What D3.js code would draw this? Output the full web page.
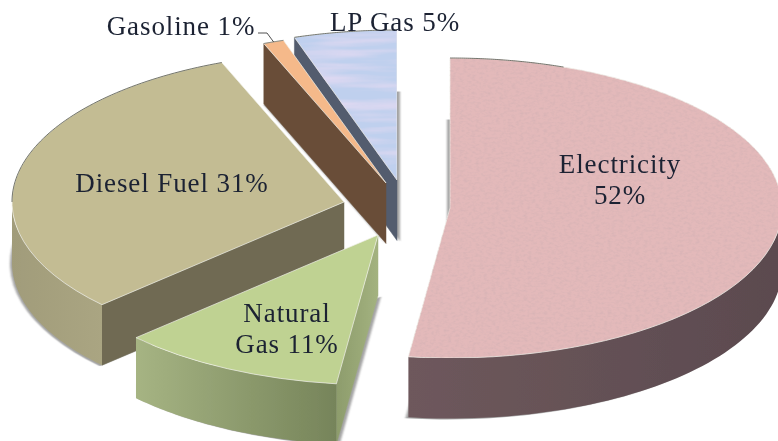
<!DOCTYPE html>
<html>
<head>
<meta charset="UTF-8">
<title>Energy use by fuel</title>
<script src="https://d3js.org/d3.v7.min.js"></script>
<style>
  body { margin: 0; background: #fff; overflow: hidden; }
  svg { display: block; }
  text { font-family: "Liberation Serif", serif; font-size: 27px; letter-spacing: 0.9px; fill: #1b2233; }
</style>
</head>
<body>
<svg id="chart" width="778" height="441"></svg>
<script>
// data, clockwise from 12 o'clock
const categories = ["Electricity", "Natural Gas", "Diesel Fuel", "Gasoline", "LP Gas"];
const shares = [52, 11, 31, 1, 5];

// label text, one entry per line
const labelLines = [["Electricity", "52%"], ["Natural", "Gas 11%"], ["Diesel Fuel 31%"], ["Gasoline 1%"], ["LP Gas 5%"]];

// layout: where the exploded slices sit
const centers = [[450, 208], [378, 235], [344, 202], [386, 183], [397, 180]];
const labelPos = [[620, 173], [287, 322], [172, 192], [181, 35], [395, 31]];
const shadowDx = [-3, 3, -2, 0, 3];
const drawOrder = [4, 3, 0, 2, 1];

const rx = 332, ry = 150, depth = 60.5;

const topColors = ["#e3b9ba", "#bfd292", "#c3bc93", "#f5b98a", "#bfd0ee"];
const outerWall = [["#6e585c", "#5b4a4f"], ["#a6b483", "#76845a"], ["#a19c7a", "#aaa582"], ["#999", "#999"], ["#999", "#999"]];
const sideWall = [["#666", "#666"], ["#8d9c6c", "#a3b27f"], ["#6f6b53", "#6f6b53"], ["#694e37", "#694e37"], ["#535c6e", "#535c6e"]];

const svg = d3.select("#chart");
const defs = svg.append("defs");

function gradient(id, stops) {
  const g = defs.append("linearGradient").attr("id", id);
  g.append("stop").attr("offset", "0%").attr("stop-color", stops[0]);
  g.append("stop").attr("offset", "100%").attr("stop-color", stops[1]);
}

// paper-like grain for the two textured slices
function grain(id, freq, matrix) {
  const f = defs.append("filter").attr("id", id)
    .attr("x", "0%").attr("y", "0%").attr("width", "100%").attr("height", "100%");
  f.append("feTurbulence").attr("type", "fractalNoise").attr("baseFrequency", freq)
    .attr("numOctaves", 3).attr("seed", 4).attr("result", "n");
  f.append("feColorMatrix").attr("in", "n").attr("type", "matrix").attr("values", matrix).attr("result", "c");
  f.append("feComposite").attr("in", "c").attr("in2", "SourceAlpha").attr("operator", "in").attr("result", "t");
  const m = f.append("feMerge");
  m.append("feMergeNode").attr("in", "SourceGraphic");
  m.append("feMergeNode").attr("in", "t");
}
grain("grainPink", "0.25 0.4", "0 0 0 0 0.6  0 0 0 0 0.42  0 0 0 0 0.44  0 0 0 1.0 -0.42");
grain("grainBlue", "0.008 0.09", "0 0 0 0 0.83  0 0 0 0 0.72  0 0 0 0 0.9  0 0 0 1.8 -0.75");

defs.append("filter").attr("id", "soft").append("feGaussianBlur").attr("stdDeviation", 1.1);
defs.append("filter").attr("id", "scan").append("feGaussianBlur").attr("stdDeviation", 0.35);

const pie = d3.pie().sort(null).value(d => d);
const arc = d3.arc().innerRadius(0).outerRadius(rx);
const slices = pie(shares);
const line = d3.line();

// point on the rim of a slice
function rim(a, c, drop) {
  return [c[0] + rx * Math.sin(a), c[1] - ry * Math.cos(a) + (drop || 0)];
}
function rimPoints(a0, a1, c, drop) {
  const steps = d3.range(0, 61).map(i => a0 + (a1 - a0) * i / 60);
  return steps.map(a => rim(a, c, drop));
}

const root = svg.append("g").attr("filter", "url(#scan)");

drawOrder.forEach(i => {
  const s = slices[i], c = centers[i];
  const g = root.append("g").attr("class", "slice").attr("data-name", categories[i]);
  gradient("outer" + i, outerWall[i]);
  gradient("side" + i, sideWall[i]);

  // soft shadow thrown behind the slice
  g.append("path")
    .attr("transform", `translate(${c[0] + shadowDx[i]},${c[1] + depth + 1}) scale(1,${ry / rx})`)
    .attr("d", arc(s))
    .attr("fill", "#a4a4a4")
    .attr("filter", "url(#soft)");

  // flat wall along the start edge, only seen in the lower left half
  if (s.startAngle > Math.PI) {
    const p = rim(s.startAngle, c);
    const q = rim(s.startAngle, c, depth);
    g.append("path")
      .attr("d", line([c, p, q, [c[0], c[1] + depth]]) + "Z")
      .attr("fill", `url(#side${i})`)
      .attr("stroke", `url(#side${i})`).attr("stroke-width", 0.5);
  }

  // curved outer wall, the part facing the viewer
  const a0 = Math.max(s.startAngle, Math.PI / 2);
  const a1 = Math.min(s.endAngle, Math.PI * 1.5);
  if (a1 > a0) {
    const pts = rimPoints(a0, a1, c).concat(rimPoints(a1, a0, c, depth));
    g.append("path")
      .attr("d", line(pts) + "Z")
      .attr("fill", `url(#outer${i})`);
  }

  // top face
  const topFace = g.append("g");
  if (i === 0) topFace.attr("filter", "url(#grainPink)");
  if (i === 4) topFace.attr("filter", "url(#grainBlue)");
  topFace.append("path")
    .attr("transform", `translate(${c[0]},${c[1]}) scale(1,${ry / rx})`)
    .attr("d", arc(s))
    .attr("fill", topColors[i])
    .attr("stroke", "#f1f1ea")
    .attr("stroke-width", 0.7)
    .attr("vector-effect", "non-scaling-stroke");

  // dark line on the rim facing away
  const b0 = s.startAngle < Math.PI / 2 ? s.startAngle : Math.max(s.startAngle, Math.PI * 1.5);
  const b1 = s.startAngle < Math.PI / 2 ? Math.PI / 9 : s.endAngle;
  if (b1 > b0) {
    g.append("path")
      .attr("d", line(rimPoints(b0, b1, c)))
      .attr("fill", "none")
      .attr("stroke", "#55584f")
      .attr("stroke-width", 0.8);
  }
});

// leader from the Gasoline label to its slice
const gasolineRim = rim((slices[3].startAngle + slices[3].endAngle) / 2, centers[3]);
root.append("path")
  .attr("d", line([[258, 33], [267, 33], gasolineRim]))
  .attr("fill", "none")
  .attr("stroke", "#222")
  .attr("stroke-width", 0.8);

// labels
labelLines.forEach((lines, i) => {
  const t = root.append("text")
    .attr("x", labelPos[i][0])
    .attr("y", labelPos[i][1])
    .attr("text-anchor", "middle");
  lines.forEach((l, k) => {
    t.append("tspan")
      .attr("x", labelPos[i][0])
      .attr("dy", k === 0 ? 0 : 31)
      .text(l);
  });
});
</script>
</body>
</html>
